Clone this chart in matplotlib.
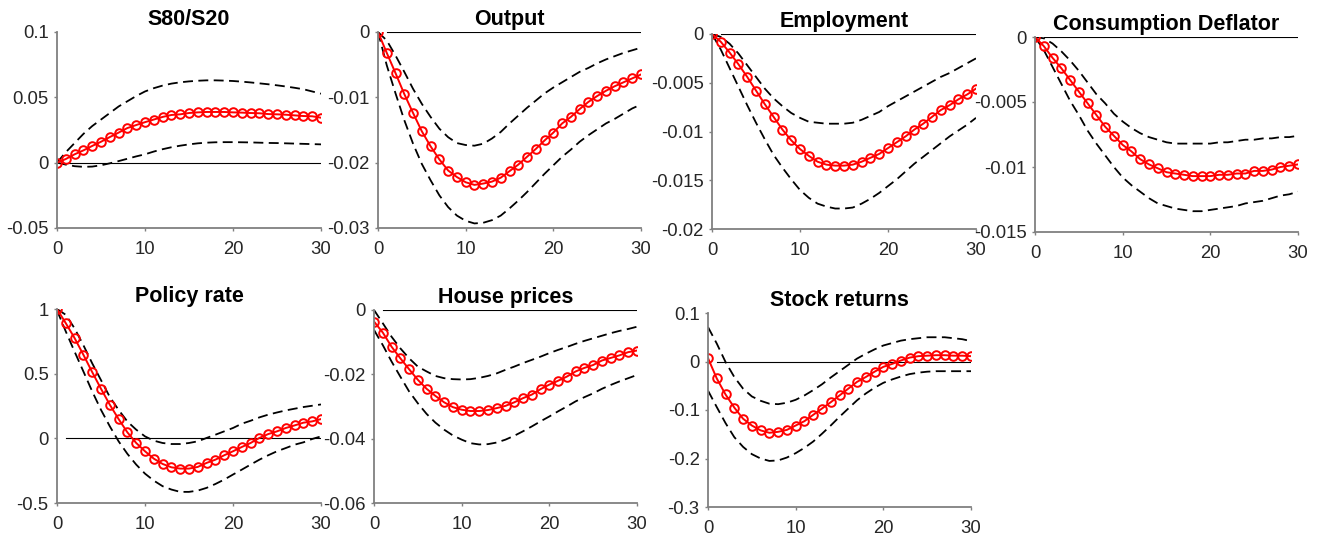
import numpy as np
import matplotlib.pyplot as plt
from matplotlib.ticker import FormatStrFormatter

plt.rcParams['font.family'] = ['Liberation Sans', 'DejaVu Sans']
plt.rcParams['axes.unicode_minus'] = False

horizon = np.arange(31)

# median responses and error bands, one triple per variable
s80_mid = [0, 0.0028, 0.0064, 0.0094, 0.0128, 0.016, 0.0196, 0.023, 0.0265, 0.0288, 0.031,
           0.033, 0.035, 0.0365, 0.037, 0.038, 0.0385, 0.0388, 0.0388, 0.0388, 0.0385,
           0.0383, 0.038, 0.0378, 0.0372, 0.037, 0.0367, 0.0362, 0.0357, 0.0355, 0.0344]
s80_hi = [0, 0.008, 0.015, 0.022, 0.028, 0.033, 0.038, 0.043, 0.047, 0.051, 0.0545,
          0.057, 0.059, 0.0605, 0.0615, 0.0622, 0.0627, 0.063, 0.063, 0.0628, 0.0625,
          0.062, 0.0614, 0.0607, 0.06, 0.0592, 0.0583, 0.0573, 0.0562, 0.0545, 0.0528]
s80_lo = [0, -0.0015, -0.0027, -0.0032, -0.003, -0.002, -0.0005, 0.0012, 0.003, 0.0048, 0.0064,
          0.0085, 0.0103, 0.0118, 0.013, 0.014, 0.0148, 0.0153, 0.0156, 0.0157, 0.0157,
          0.0156, 0.0155, 0.0153, 0.0151, 0.015, 0.0148, 0.0146, 0.0144, 0.0142, 0.014]

out_mid = [0, -0.0032, -0.0063, -0.0095, -0.0124, -0.0152, -0.0175, -0.0195, -0.0212, -0.0222, -0.023,
           -0.0234, -0.0232, -0.0229, -0.0223, -0.0213, -0.0203, -0.0191, -0.0179, -0.0166, -0.0154,
           -0.014, -0.013, -0.0118, -0.0107, -0.0098, -0.009, -0.0083, -0.0077, -0.0071, -0.0065]
out_hi = [0, -0.0013, -0.0036, -0.0061, -0.0087, -0.011, -0.013, -0.0148, -0.0161, -0.017, -0.0173,
          -0.0174, -0.0171, -0.0163, -0.0153, -0.014, -0.0128, -0.0116, -0.0105, -0.0094, -0.0085,
          -0.0077, -0.0069, -0.0061, -0.0055, -0.0048, -0.0042, -0.0037, -0.0032, -0.0028, -0.0024]
out_lo = [0, -0.0051, -0.0094, -0.0135, -0.0171, -0.0202, -0.0227, -0.025, -0.0268, -0.0281, -0.0289,
          -0.0293, -0.0292, -0.0288, -0.0281, -0.027, -0.0258, -0.0245, -0.0231, -0.0217, -0.0204,
          -0.0191, -0.018, -0.0168, -0.0158, -0.0149, -0.014, -0.0133, -0.0125, -0.0117, -0.0111]

emp_mid = [0, -0.0008, -0.0019, -0.0031, -0.0044, -0.0058, -0.0072, -0.0085, -0.0098, -0.0109, -0.0118,
           -0.0125, -0.0131, -0.0134, -0.0135, -0.0135, -0.0134, -0.0131, -0.0127, -0.0123, -0.0117,
           -0.0111, -0.0105, -0.0098, -0.0092, -0.0085, -0.0078, -0.0073, -0.0067, -0.0062, -0.0056]
emp_hi = [0, -0.0003, -0.001, -0.002, -0.0032, -0.0044, -0.0056, -0.0066, -0.0074, -0.0081, -0.0086,
          -0.009, -0.0091, -0.0092, -0.0092, -0.0092, -0.0091, -0.0088, -0.0084, -0.008, -0.0074,
          -0.0069, -0.0064, -0.0059, -0.0054, -0.0049, -0.0044, -0.004, -0.0035, -0.003, -0.0025]
emp_lo = [0, -0.0016, -0.0035, -0.0054, -0.0073, -0.0091, -0.0108, -0.0124, -0.0137, -0.0149, -0.016,
          -0.0168, -0.0174, -0.0177, -0.0179, -0.0179, -0.0178, -0.0174, -0.0169, -0.0163, -0.0156,
          -0.0149, -0.0141, -0.0133, -0.0126, -0.0119, -0.0112, -0.0105, -0.0099, -0.0093, -0.0086]

pc_mid = [0, -0.0007, -0.0016, -0.0024, -0.0033, -0.0042, -0.0051, -0.006, -0.0069, -0.0076, -0.0083,
          -0.0088, -0.0094, -0.0098, -0.0101, -0.0104, -0.0105, -0.0106, -0.0107, -0.0107, -0.0107,
          -0.0106, -0.0106, -0.0105, -0.0105, -0.0103, -0.0103, -0.0102, -0.01, -0.0099, -0.0098]
pc_hi = [0, -0.0001, -0.0005, -0.0011, -0.0018, -0.0026, -0.0035, -0.0044, -0.0051, -0.0059, -0.0065,
         -0.007, -0.0074, -0.0077, -0.0079, -0.0081, -0.0082, -0.0082, -0.0082, -0.0082, -0.0082,
         -0.0081, -0.0081, -0.008, -0.0079, -0.0079, -0.0078, -0.0078, -0.0077, -0.0077, -0.0076]
pc_lo = [0, -0.001, -0.0023, -0.0036, -0.0049, -0.006, -0.0072, -0.0082, -0.0091, -0.01, -0.0108,
         -0.0114, -0.0119, -0.0124, -0.0128, -0.013, -0.0132, -0.0133, -0.0134, -0.0134, -0.0133,
         -0.0132, -0.0131, -0.013, -0.0128, -0.0127, -0.0126, -0.0124, -0.0122, -0.0121, -0.0119]

rate_mid = [1.0, 0.89, 0.775, 0.646, 0.512, 0.383, 0.26, 0.149, 0.046, -0.036, -0.1,
            -0.157, -0.198, -0.224, -0.234, -0.234, -0.221, -0.19, -0.165, -0.131, -0.1,
            -0.067, -0.036, 0.003, 0.033, 0.054, 0.08, 0.1, 0.121, 0.131, 0.149]
rate_hi = [1.0, 0.955, 0.85, 0.72, 0.58, 0.45, 0.32, 0.22, 0.13, 0.067, 0.015,
           -0.018, -0.036, -0.044, -0.044, -0.036, -0.023, 0.003, 0.028, 0.054, 0.08,
           0.113, 0.136, 0.162, 0.183, 0.2, 0.216, 0.229, 0.242, 0.252, 0.262]
rate_lo = [0.99, 0.826, 0.67, 0.517, 0.363, 0.22, 0.093, -0.023, -0.12, -0.203, -0.273,
           -0.327, -0.37, -0.396, -0.414, -0.414, -0.404, -0.383, -0.353, -0.319, -0.28,
           -0.242, -0.203, -0.165, -0.131, -0.1, -0.075, -0.049, -0.031, -0.005, 0.015]

hp_mid = [-0.0036, -0.007, -0.0114, -0.015, -0.0184, -0.0217, -0.0245, -0.0267, -0.0287, -0.0302, -0.031,
          -0.0314, -0.0314, -0.0311, -0.0305, -0.0298, -0.0287, -0.0274, -0.0263, -0.0246, -0.0232,
          -0.022, -0.0207, -0.0191, -0.018, -0.0171, -0.0157, -0.0149, -0.0141, -0.0131, -0.0126]
hp_hi = [0, -0.0041, -0.0083, -0.0119, -0.015, -0.0176, -0.0191, -0.0205, -0.0212, -0.0215, -0.0216,
         -0.0215, -0.0211, -0.0205, -0.0197, -0.0186, -0.0176, -0.0165, -0.0155, -0.0145, -0.0134,
         -0.0124, -0.0115, -0.0105, -0.0096, -0.0088, -0.008, -0.0072, -0.0065, -0.0059, -0.0052]
hp_lo = [-0.0062, -0.0109, -0.016, -0.0207, -0.0253, -0.029, -0.0323, -0.035, -0.0372, -0.039, -0.0403,
         -0.0414, -0.0418, -0.0417, -0.0412, -0.0403, -0.0391, -0.0377, -0.0362, -0.0346, -0.0331,
         -0.0315, -0.03, -0.0284, -0.0271, -0.0259, -0.0245, -0.0233, -0.0222, -0.0212, -0.0202]

stk_mid = [0.007, -0.035, -0.068, -0.095, -0.118, -0.132, -0.142, -0.147, -0.145, -0.141, -0.132,
           -0.123, -0.11, -0.097, -0.084, -0.07, -0.056, -0.042, -0.032, -0.021, -0.011,
           -0.005, 0.002, 0.008, 0.011, 0.012, 0.013, 0.013, 0.012, 0.012, 0.011]
stk_hi = [0.071, 0.037, -0.001, -0.032, -0.056, -0.072, -0.081, -0.087, -0.088, -0.085, -0.079,
          -0.07, -0.059, -0.047, -0.033, -0.02, -0.007, 0.006, 0.016, 0.025, 0.033,
          0.038, 0.043, 0.046, 0.048, 0.05, 0.05, 0.05, 0.048, 0.046, 0.042]
stk_lo = [-0.06, -0.094, -0.127, -0.156, -0.176, -0.191, -0.2, -0.205, -0.204, -0.198, -0.189,
          -0.178, -0.165, -0.149, -0.132, -0.114, -0.097, -0.08, -0.066, -0.054, -0.044,
          -0.037, -0.031, -0.026, -0.023, -0.021, -0.02, -0.02, -0.02, -0.02, -0.02]

titles = ['S80/S20', 'Output', 'Employment', 'Consumption Deflator',
          'Policy rate', 'House prices', 'Stock returns']
mids = [s80_mid, out_mid, emp_mid, pc_mid, rate_mid, hp_mid, stk_mid]
his = [s80_hi, out_hi, emp_hi, pc_hi, rate_hi, hp_hi, stk_hi]
los = [s80_lo, out_lo, emp_lo, pc_lo, rate_lo, hp_lo, stk_lo]
ylims = [(-0.05, 0.1), (-0.03, 0), (-0.02, 0), (-0.015, 0),
         (-0.5, 1), (-0.06, 0), (-0.3, 0.1)]
yticks = [[-0.05, 0, 0.05, 0.1], [-0.03, -0.02, -0.01, 0],
          [-0.02, -0.015, -0.01, -0.005, 0], [-0.015, -0.01, -0.005, 0],
          [-0.5, 0, 0.5, 1], [-0.06, -0.04, -0.02, 0], [-0.3, -0.2, -0.1, 0, 0.1]]

# axes boxes in pixels: left, right, top, bottom
W, H = 1318, 539
boxes = [(57, 321, 32, 228), (378, 641, 32, 228), (712, 976, 34, 229), (1035, 1298, 37, 232),
         (57, 321, 309, 503), (374, 637, 310, 503), (708, 971, 313, 507)]

fig = plt.figure(figsize=(W / 100, H / 100), dpi=100)
axis_grey = '#808080'

for i in range(7):
    l, r, t, b = boxes[i]
    ax = fig.add_axes([l / W, 1 - b / H, (r - l) / W, (b - t) / H])
    ax.plot(horizon, his[i], 'k--', lw=1.3, dashes=(5.5, 3))
    ax.plot(horizon, los[i], 'k--', lw=1.3, dashes=(5.5, 3))
    ax.plot([1, 30], [0, 0], color='black', lw=0.8)
    ax.plot(horizon, mids[i], color='red', lw=1.4, marker='o', ms=6.2,
            mfc='none', mew=1.4)
    ax.set_xlim(0, 30)
    ax.set_ylim(*ylims[i])
    ax.set_xticks([0, 10, 20, 30])
    ax.set_yticks(yticks[i])
    ax.yaxis.set_major_formatter(FormatStrFormatter('%g'))
    for side in ['top', 'right']:
        ax.spines[side].set_visible(False)
    for side in ['left', 'bottom']:
        ax.spines[side].set_color(axis_grey)
        ax.spines[side].set_linewidth(1.3)
    ax.tick_params(direction='out', length=2.5, width=1, color=axis_grey,
                   labelsize=13.3, labelcolor='#262626')
    ax.tick_params(axis='x', pad=7)
    ax.tick_params(axis='y', pad=3.5)
    ax.set_title(titles[i], fontsize=15.5, fontweight='bold', pad=5)
    ax.patch.set_visible(False)

fig.savefig('out.png', dpi=100)
